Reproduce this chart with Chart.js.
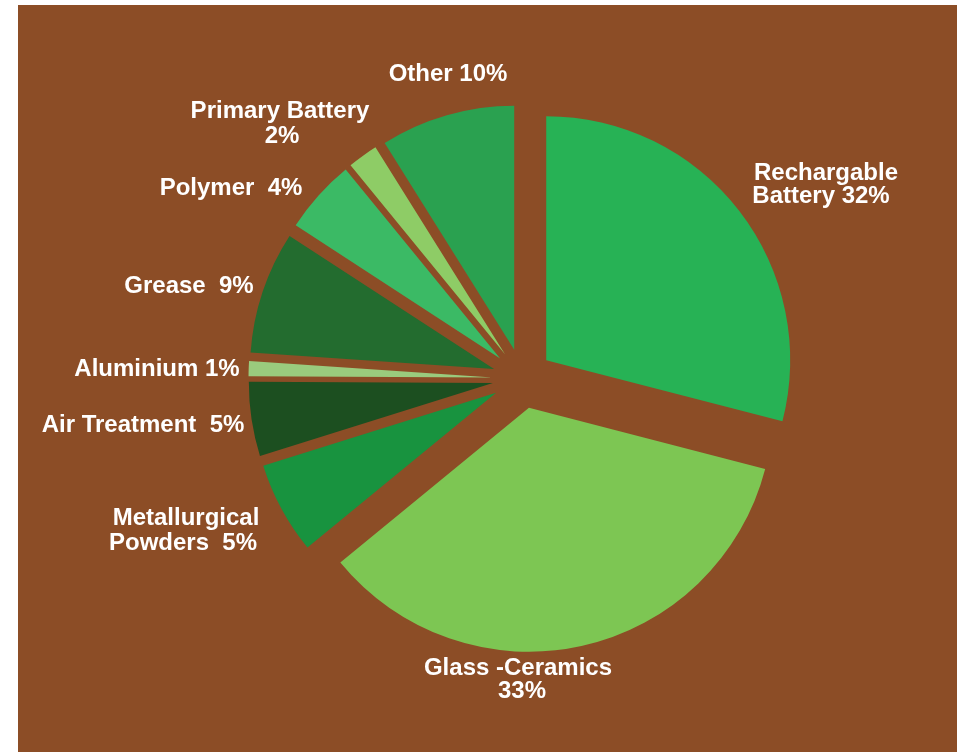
<!DOCTYPE html>
<html>
<head>
<meta charset="utf-8">
<script src="https://cdn.jsdelivr.net/npm/chart.js@4"></script>
<style>
  html, body { margin: 0; padding: 0; background: #ffffff; }
  #wrap { position: absolute; left: 18px; top: 5px; width: 939px; height: 747px; background: #8C4D26; }
  canvas { display: block; }
</style>
</head>
<body>
<div id="wrap"><canvas id="c" width="939" height="747"></canvas></div>
<script>
// ---- data ----
const categories = ["Rechargable Battery", "Glass -Ceramics", "Metallurgical Powders", "Air Treatment",
                    "Aluminium", "Grease", "Polymer", "Primary Battery", "Other"];
const shares = [29.0, 35.0, 6.1, 4.9, 1.0, 8.1, 4.9, 2.0, 8.9];
const labelLines = [
  ["Rechargable", "Battery 32%"],
  ["Glass -Ceramics", "33%"],
  ["Metallurgical", "Powders  5%"],
  ["Air Treatment  5%"],
  ["Aluminium 1%"],
  ["Grease  9%"],
  ["Polymer  4%"],
  ["Primary Battery", "2%"],
  ["Other 10%"]
];

// ---- styles / layout ----
const sliceColors = ["#27B255", "#7DC653", "#18933F", "#1C4F20", "#9ACB7D",
                     "#236C2F", "#3BBA65", "#8ECC66", "#2AA150"];
const explode = 30;
const pieRadius = 244;
// label line anchors (center x, baseline y) in canvas pixels
const labelLayout = [
  [[808, 175], [803, 198]],
  [[500, 670], [504, 693]],
  [[168, 520], [165, 545]],
  [[125, 427]],
  [[139, 371]],
  [[171, 288]],
  [[213, 190]],
  [[262, 113], [264, 138]],
  [[430, 76]]
];

const explodePlugin = {
  id: 'explode',
  afterUpdate(chart) {
    const meta = chart.getDatasetMeta(0);
    meta.data.forEach(arc => {
      const mid = (arc.startAngle + arc.endAngle) / 2;
      arc.x += explode * Math.cos(mid);
      arc.y += explode * Math.sin(mid);
    });
  }
};

const labelPlugin = {
  id: 'sliceLabels',
  afterDraw(chart) {
    const ctx = chart.ctx;
    ctx.save();
    ctx.fillStyle = '#ffffff';
    ctx.font = 'bold 24px "Liberation Sans", Arial, sans-serif';
    ctx.textAlign = 'center';
    ctx.textBaseline = 'alphabetic';
    labelLines.forEach((lines, i) => {
      lines.forEach((t, j) => {
        const p = labelLayout[i][j];
        ctx.fillText(t, p[0], p[1]);
      });
    });
    ctx.restore();
  }
};

new Chart(document.getElementById('c'), {
  type: 'pie',
  data: {
    labels: categories,
    datasets: [{
      data: shares,
      backgroundColor: sliceColors,
      borderWidth: 0
    }]
  },
  options: {
    responsive: false,
    animation: false,
    events: [],
    radius: pieRadius,
    layout: { padding: { left: 70, right: 0, top: 0, bottom: 0 } },
    plugins: { legend: { display: false }, tooltip: { enabled: false } }
  },
  plugins: [explodePlugin, labelPlugin]
});
</script>
</body>
</html>
